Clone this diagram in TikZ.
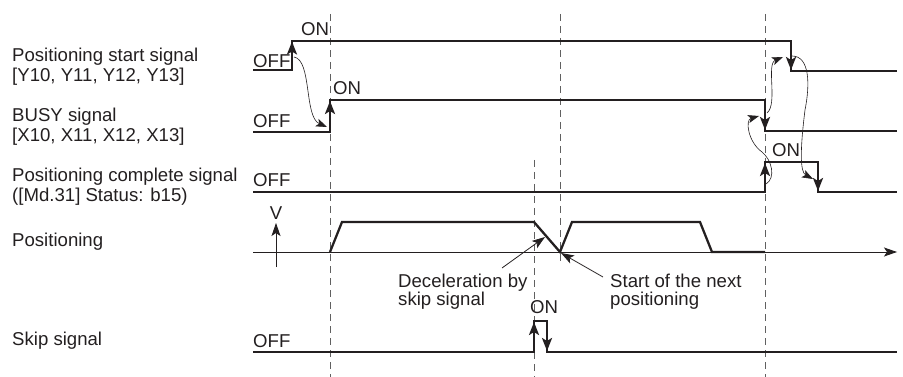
\documentclass[tikz,border=0pt]{standalone}
\usepackage{fontspec}
\setmainfont{Liberation Sans}
\usetikzlibrary{arrows.meta}
\definecolor{ink}{HTML}{231F20}
\definecolor{dashc}{HTML}{606060}
\begin{document}
\begin{tikzpicture}[x=1pt,y=-1pt,
  sig/.style={line width=2.3pt, color=ink, line join=miter},
  thinl/.style={line width=0.8pt, color=ink},
  vline/.style={line width=1pt, color=dashc, dash pattern=on 7pt off 5pt},
  tipa/.style={-{Stealth[length=13pt,width=10pt,inset=3pt]}, line width=2.3pt, color=ink},
  ctip/.style={-{Stealth[length=11pt,width=8pt,inset=2.5pt]}, line width=0.6pt, color=ink},
  ltip/.style={-{Stealth[length=13pt,width=9pt,inset=3pt]}, line width=0.8pt, color=ink},
  txt/.style={inner sep=0pt, anchor=base west, font=\fontsize{18.6}{21}\selectfont, text=ink}]
\useasboundingbox (0,0) rectangle (903,377);

% left labels
\node[txt] (l1a) at (12,62) {Positioning start signal};
\node[txt] (l1b) at (12,82) {[Y10, Y11, Y12, Y13]};
\node[txt] (l2a) at (12,122) {BUSY signal};
\node[txt] (l2b) at (12,142) {[X10, X11, X12, X13]};
\node[txt] (l3a) at (12,182) {Positioning complete signal};
\node[txt] (l3b) at (12,202) {([Md.31] Status: b15)};
\node[txt] (l4) at (12,246) {Positioning};
\node[txt] (l5) at (12,345) {Skip signal};

% dashed guide lines
\draw[vline] (330,14) -- (330,377);
\draw[vline] (560,14) -- (560,262);
\draw[vline] (534,160) -- (534,377);
\draw[vline] (765,14) -- (765,377);

% signals
\draw[sig] (253,70) -- (292,70) -- (292,41) -- (791,41) -- (791,71) -- (897,71);
\draw[sig] (253,132) -- (330,132) -- (330,100) -- (765,100) -- (765,131) -- (897,131);
\draw[sig] (253,192) -- (765,192) -- (765,162) -- (818,162) -- (818,192) -- (897,192);
\draw[sig] (330,252) -- (342,222) -- (534,222) -- (560,252) -- (572,222) -- (700,222) -- (712,252) -- (765,252);
\draw[sig] (253,352) -- (534,352) -- (534,321) -- (547,321) -- (547,352) -- (897,352);

% edge arrows
\draw[tipa] (292,62) -- (292,41.5);
\draw[tipa] (330,122) -- (330,101);
\draw[tipa] (791,50) -- (791,70);
\draw[tipa] (765,108) -- (765,130);
\draw[tipa] (765,184) -- (765,163);
\draw[tipa] (818,170) -- (818,191);
\draw[tipa] (534,342) -- (534,322);
\draw[tipa] (547,330) -- (547,351);

% axis
\draw[ltip] (253,252) -- (897,252);
\draw[ltip] (276,267) -- (276,223);
\node[txt, anchor=base] (v) at (276,219) {V};

% state labels
\node[txt] (on1) at (301,36) {ON};
\node[txt] (off1) at (253,68) {OFF};
\node[txt] (on2) at (333,95) {ON};
\node[txt] (off2) at (253,128) {OFF};
\node[txt] (off3) at (253,187) {OFF};
\node[txt] (on3) at (772,157) {ON};
\node[txt] (off5) at (253,347) {OFF};
\node[txt] (on5) at (530,313) {ON};

% annotations
\node[txt] (d1) at (398,287) {Deceleration by};
\node[txt] (d2) at (398,305) {skip signal};
\node[txt] (s1) at (610,287) {Start of the next};
\node[txt] (s2) at (610,305) {positioning};
\draw[ltip] (502,268) -- (545,237);
\draw[ltip] (603,277) -- (561,253);

% causal curves
\draw[ctip] (294,57) .. controls (312,60) and (304,117) .. (327,127);
\draw[ctip] (767,113) .. controls (778,104) and (766,64) .. (783,57);
\draw[ctip] (766,184) .. controls (776,178) and (772,160) .. (762,152) .. controls (748,142) and (745,120) .. (759,116);
\draw[ctip] (792,56) .. controls (810,56) and (810,85) .. (805,110) .. controls (800,150) and (800,172) .. (813,179);
\end{tikzpicture}
\end{document}
